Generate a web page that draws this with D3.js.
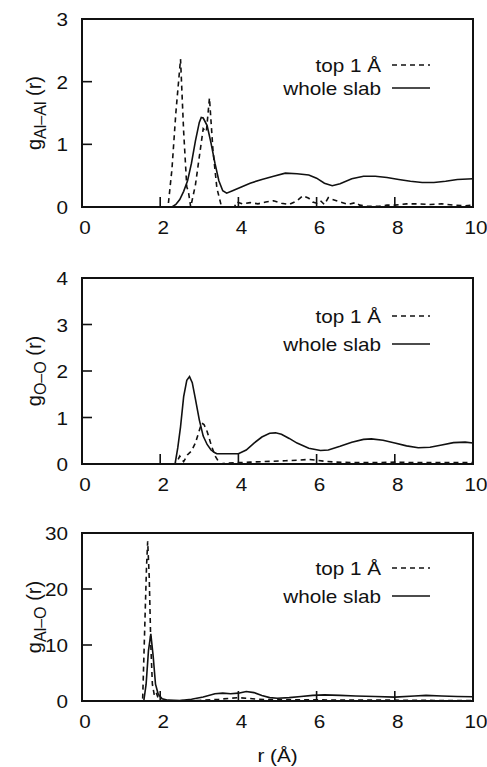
<!DOCTYPE html>
<html>
<head>
<meta charset="utf-8">
<script src="https://cdn.jsdelivr.net/npm/d3@7"></script>
<style>
  html, body { margin: 0; padding: 0; background: #fff; }
  svg { display: block; }
  text { font-family: "Liberation Sans", Arial, Helvetica, sans-serif; fill: #111; }
</style>
</head>
<body>
<svg id="chart" width="487" height="767"></svg>
<script>
// Radial distribution functions g(r); r in Å
const xTicks = [0, 2, 4, 6, 8, 10];
const legendLabels = ["top 1 Å", "whole slab"];

// Al–Al
const alAlTopR = [0, 2.2, 2.3, 2.4, 2.52, 2.6, 2.68, 2.72, 2.78, 2.9, 3.0, 3.1, 3.18, 3.26, 3.35, 3.45, 3.57, 3.9, 3.95, 4.1, 4.3, 4.5, 4.7, 4.9, 5.1, 5.3, 5.5, 5.65, 5.8, 5.9, 6.0, 6.1, 6.2, 6.3, 6.4, 6.6, 6.8, 7.0, 7.1, 7.3, 7.6, 7.8, 8.0, 8.3, 8.6, 8.9, 9.2, 9.5, 9.8, 10];
const alAlTopG = [0, 0, 0.6, 1.5, 2.36, 1.2, 0.32, 0.25, 0, 0.35, 0.8, 1.25, 1.2, 1.74, 0.9, 0.3, 0, 0, 0.08, 0.05, 0.07, 0.05, 0.08, 0.1, 0.06, 0.04, 0.1, 0.18, 0.14, 0.08, 0.06, 0.1, 0.04, 0.15, 0.12, 0.08, 0.04, 0.07, 0.03, 0.01, 0.01, 0.03, 0.03, 0.05, 0.05, 0.04, 0.05, 0.03, 0.02, 0.03];
const alAlWholeR = [0, 2.3, 2.4, 2.5, 2.6, 2.7, 2.8, 2.9, 3.0, 3.05, 3.1, 3.2, 3.3, 3.4, 3.5, 3.6, 3.7, 3.85, 4.0, 4.3, 4.6, 4.9, 5.2, 5.5, 5.8, 6.0, 6.2, 6.4, 6.6, 6.9, 7.2, 7.5, 7.8, 8.1, 8.4, 8.7, 9.0, 9.3, 9.6, 10];
const alAlWholeG = [0, 0, 0.04, 0.12, 0.25, 0.42, 0.7, 1.05, 1.35, 1.43, 1.42, 1.3, 1.02, 0.7, 0.42, 0.26, 0.22, 0.26, 0.3, 0.38, 0.44, 0.49, 0.54, 0.53, 0.51, 0.46, 0.38, 0.34, 0.37, 0.45, 0.49, 0.49, 0.47, 0.44, 0.41, 0.39, 0.39, 0.41, 0.44, 0.45];

// O–O
const oOTopR = [0, 2.4, 2.45, 2.5, 2.55, 2.6, 2.7, 2.8, 2.9, 3.0, 3.06, 3.12, 3.2, 3.3, 3.4, 3.53, 3.7, 4.0, 4.3, 4.6, 4.9, 5.2, 5.5, 5.8, 6.0, 6.2, 6.5, 7.0, 7.5, 8.0, 8.5, 9.0, 9.5, 10];
const oOTopG = [0, 0, 0.08, 0.17, 0.1, 0.05, 0.2, 0.28, 0.45, 0.72, 0.88, 0.85, 0.7, 0.42, 0.18, 0, 0.02, 0.03, 0.04, 0.05, 0.06, 0.07, 0.08, 0.1, 0.08, 0.06, 0.04, 0.03, 0.03, 0.04, 0.03, 0.03, 0.03, 0.03];
const oOWholeR = [0, 2.38, 2.45, 2.52, 2.6, 2.68, 2.75, 2.82, 2.9, 3.0, 3.1, 3.2, 3.3, 3.4, 3.45, 4.0, 4.2, 4.4, 4.6, 4.8, 4.95, 5.1, 5.3, 5.5, 5.8, 6.1, 6.3, 6.6, 6.9, 7.2, 7.4, 7.7, 8.0, 8.3, 8.6, 8.9, 9.2, 9.5, 9.8, 10];
const oOWholeG = [0, 0, 0.35, 0.8, 1.45, 1.8, 1.88, 1.75, 1.4, 0.95, 0.6, 0.42, 0.3, 0.24, 0.22, 0.22, 0.3, 0.45, 0.58, 0.66, 0.67, 0.64, 0.55, 0.45, 0.34, 0.29, 0.3, 0.38, 0.47, 0.53, 0.54, 0.51, 0.45, 0.39, 0.35, 0.36, 0.41, 0.46, 0.47, 0.45];

// Al–O
const alOTopR = [0, 1.55, 1.6, 1.65, 1.68, 1.72, 1.76, 1.8, 1.85, 1.9, 1.95, 2.0, 2.2, 2.5, 3.0, 3.5, 3.8, 4.0, 4.2, 4.5, 5.0, 6.0, 7.0, 8.0, 9.0, 10];
const alOTopG = [0, 0, 12, 24, 28.5, 22, 10, 3, 1, 1.5, 0.5, 0.1, 0, 0.05, 0.1, 0.3, 0.5, 0.6, 0.5, 0.3, 0.2, 0.2, 0.15, 0.15, 0.1, 0.1];
const alOWholeR = [0, 1.58, 1.64, 1.7, 1.76, 1.82, 1.88, 1.95, 2.05, 2.2, 2.5, 2.8, 3.1, 3.4, 3.6, 3.8, 4.0, 4.2, 4.4, 4.6, 4.8, 5.0, 5.3, 5.6, 5.9, 6.2, 6.6, 7.0, 7.5, 8.0, 8.5, 8.8, 9.2, 9.6, 10];
const alOWholeG = [0, 0, 3, 9, 12, 8, 3, 1.2, 0.4, 0.15, 0.1, 0.3, 0.7, 1.3, 1.4, 1.3, 1.4, 1.7, 1.5, 1.0, 0.6, 0.5, 0.6, 0.8, 1.0, 1.1, 1.0, 0.9, 0.8, 0.7, 0.9, 1.0, 0.9, 0.8, 0.75];

const panels = [
  { sub: "Al–Al", yMax: 3, yTicks: [0, 1, 2, 3], top: 19, bottom: 207, legendY: [65, 88],
    top1: [alAlTopR, alAlTopG], whole: [alAlWholeR, alAlWholeG] },
  { sub: "O–O", yMax: 4, yTicks: [0, 1, 2, 3, 4], top: 278, bottom: 464, legendY: [316, 344],
    top1: [oOTopR, oOTopG], whole: [oOWholeR, oOWholeG] },
  { sub: "Al–O", yMax: 30, yTicks: [0, 10, 20, 30], top: 533, bottom: 701, legendY: [568, 596],
    top1: [alOTopR, alOTopG], whole: [alOWholeR, alOWholeG] }
];

const svg = d3.select("#chart");
const left = 82, right = 473;
const SX = 1.15;          // horizontal stretch of the lettering
const FS = 18;            // base font size
const tickLen = 10;

const x = d3.scaleLinear().domain([0, 10]).range([left, right]);

function hText(g, px, py, str, anchor, size) {
  return g.append("text")
    .attr("transform", `translate(${px},${py}) scale(${SX},1)`)
    .attr("text-anchor", anchor)
    .attr("font-size", size)
    .text(str);
}

panels.forEach((p, i) => {
  const g = svg.append("g");
  const y = d3.scaleLinear().domain([0, p.yMax]).range([p.bottom, p.top]);

  const clipId = "clip" + i;
  svg.append("clipPath").attr("id", clipId)
    .append("rect").attr("x", left).attr("y", p.top)
    .attr("width", right - left).attr("height", p.bottom - p.top);

  const line = d3.line().x(d => x(d[0])).y(d => y(d[1]));
  const pts = (s) => s[0].map((r, k) => [r, s[1][k]]);

  // curves
  const curves = g.append("g").attr("clip-path", `url(#${clipId})`);
  curves.append("path").datum(pts(p.top1))
    .attr("d", line).attr("fill", "none").attr("stroke", "#111")
    .attr("stroke-width", 1.6).attr("stroke-dasharray", "5,4");
  curves.append("path").datum(pts(p.whole))
    .attr("d", line).attr("fill", "none").attr("stroke", "#111")
    .attr("stroke-width", 1.6);

  // frame
  g.append("rect").attr("x", left).attr("y", p.top)
    .attr("width", right - left).attr("height", p.bottom - p.top)
    .attr("fill", "none").attr("stroke", "#111").attr("stroke-width", 2);

  // x ticks (inward, bottom only) and labels
  xTicks.forEach(t => {
    if (t > 0 && t < 10) {
      g.append("line").attr("x1", x(t)).attr("x2", x(t))
        .attr("y1", p.bottom).attr("y2", p.bottom - tickLen)
        .attr("stroke", "#111").attr("stroke-width", 1.6);
    }
    hText(g, x(t) + 3, p.bottom + 27, String(t), "middle", FS);
  });

  // y ticks (inward, left only) and labels
  p.yTicks.forEach(t => {
    if (t > 0 && t < p.yMax) {
      g.append("line").attr("x1", left).attr("x2", left + tickLen)
        .attr("y1", y(t)).attr("y2", y(t))
        .attr("stroke", "#111").attr("stroke-width", 1.6);
    }
    hText(g, 68, y(t) + 7, String(t), "end", FS);
  });

  // y-axis title
  const cy = (p.top + p.bottom) / 2;
  const yt = g.append("text")
    .attr("transform", `translate(41,${cy}) rotate(-90)`)
    .attr("text-anchor", "middle")
    .attr("font-size", 20);
  yt.append("tspan").text("g");
  yt.append("tspan").attr("font-size", 16).attr("dy", 5).text(p.sub);
  yt.append("tspan").attr("dy", -5).text(" (r)");

  // legend
  hText(g, 381, p.legendY[0] + 7, legendLabels[0], "end", FS);
  hText(g, 381, p.legendY[1] + 7, legendLabels[1], "end", FS);
  g.append("line").attr("x1", 392).attr("x2", 430)
    .attr("y1", p.legendY[0]).attr("y2", p.legendY[0])
    .attr("stroke", "#111").attr("stroke-width", 1.6).attr("stroke-dasharray", "5,4");
  g.append("line").attr("x1", 392).attr("x2", 430)
    .attr("y1", p.legendY[1]).attr("y2", p.legendY[1])
    .attr("stroke", "#111").attr("stroke-width", 1.6);
});

// x-axis title
hText(svg, (left + right) / 2, 762, "r (Å)", "middle", FS);
</script>
</body>
</html>
